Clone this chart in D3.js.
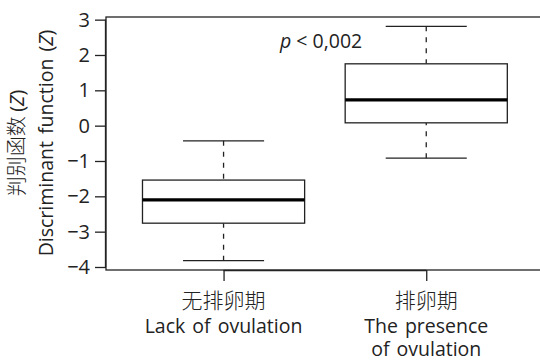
<!DOCTYPE html>
<html><head><meta charset="utf-8">
<script src="https://cdn.jsdelivr.net/npm/d3@7"></script>
<style>
html,body{margin:0;padding:0;background:#fff;}
text{font-family:"Open Sans",sans-serif;fill:#222;}
</style></head>
<body>
<svg id="c" width="540" height="361"></svg>
<script>
const categoriesZh = ["无排卵期", "排卵期"];
const categoriesEn = [["Lack of ovulation"], ["The presence", "of ovulation"]];
const lowerWhisker = [-3.82, -0.92];
const q1 = [-2.76, 0.08];
const median = [-2.10, 0.73];
const q3 = [-1.54, 1.75];
const upperWhisker = [-0.43, 2.81];
const yTicks = [-4, -3, -2, -1, 0, 1, 2, 3];
const pLabel = "p < 0,002";

const svg = d3.select("#c");
const x = d3.scaleLinear().domain([0.42, 2.58]).range([106, 543.8]);
const y = d3.scaleLinear().domain([-4.085, 3.075]).range([270, 17]);
const fmt = d => (d < 0 ? "\u2212" + Math.abs(d) : String(d));
const EN = "19.5px";

svg.append("rect").attr("x", x(0.42)).attr("y", y(3.075))
  .attr("width", x(2.58) - x(0.42)).attr("height", y(-4.085) - y(3.075))
  .attr("fill", "none").attr("stroke", "#222").attr("stroke-width", 1.3);

const ya = svg.append("g").attr("transform", `translate(${x(0.42)},0)`)
  .call(d3.axisLeft(y).tickValues(yTicks).tickFormat(fmt).tickSize(11).tickPadding(5));
ya.select(".domain").attr("d", `M-0.5,${y(-4)}V${y(3)}`).attr("stroke", "#222").attr("stroke-width", 1.3);
ya.selectAll(".tick line").attr("stroke", "#222").attr("stroke-width", 1.3);
ya.selectAll(".tick text").style("font-size", "20px").attr("fill", "#222");

const xa = svg.append("g").attr("transform", `translate(0,${y(-4.085)})`)
  .call(d3.axisBottom(x).tickValues([1, 2]).tickFormat("").tickSize(11));
xa.select(".domain").attr("d", `M${x(1)},0.5H${x(2)}`).attr("stroke", "#222").attr("stroke-width", 1.3);
xa.selectAll(".tick line").attr("stroke", "#222").attr("stroke-width", 1.3);

[0, 1].forEach(i => {
  const cx = x(i + 1);
  svg.append("text").attr("x", cx).attr("y", 308).attr("text-anchor", "middle")
    .style("font-family", "'Noto Sans CJK SC',sans-serif").style("font-size", "21px").style("font-weight", 300)
    .attr("fill", "#333").text(categoriesZh[i]);
  const t = svg.append("text").attr("x", cx).attr("y", 333).attr("text-anchor", "middle")
    .style("font-size", EN).style("word-spacing", "2px");
  categoriesEn[i].forEach((ln, j) => {
    t.append("tspan").attr("x", cx).attr("dy", j === 0 ? 0 : 23).text(ln);
  });
});

const yl = svg.append("g").attr("transform", `translate(0,143) rotate(-90)`);
yl.append("text").attr("x", 0).attr("y", 24).attr("text-anchor", "middle")
  .style("font-size", EN).attr("fill", "#333")
  .call(t => {
    t.append("tspan").style("font-family", "'Noto Sans CJK SC',sans-serif").style("font-weight", 300).style("font-size", "20px").text("判别函数 ");
    t.append("tspan").text("(");
    t.append("tspan").style("font-style", "italic").text("Z");
    t.append("tspan").text(")");
  });
yl.append("text").attr("x", 0).attr("y", 53).attr("text-anchor", "middle")
  .style("font-size", EN).style("word-spacing", "2px")
  .call(t => {
    t.append("tspan").text("Discriminant function (");
    t.append("tspan").style("font-style", "italic").text("Z");
    t.append("tspan").text(")");
  });

const bw = 0.8, cw = 0.4;
const g = svg.append("g");
[0, 1].forEach(i => {
  const c = i + 1;
  g.append("line").attr("x1", x(c)).attr("x2", x(c)).attr("y1", y(upperWhisker[i])).attr("y2", y(q3[i]))
    .attr("stroke", "#222").attr("stroke-width", 1.3).attr("stroke-dasharray", "5,6");
  g.append("line").attr("x1", x(c)).attr("x2", x(c)).attr("y1", y(lowerWhisker[i])).attr("y2", y(q1[i]))
    .attr("stroke", "#222").attr("stroke-width", 1.3).attr("stroke-dasharray", "5,6");
  [upperWhisker[i], lowerWhisker[i]].forEach(v => {
    g.append("line").attr("x1", x(c - cw / 2)).attr("x2", x(c + cw / 2)).attr("y1", y(v)).attr("y2", y(v))
      .attr("stroke", "#222").attr("stroke-width", 1.3);
  });
  g.append("rect").attr("x", x(c - bw / 2)).attr("y", y(q3[i]))
    .attr("width", x(c + bw / 2) - x(c - bw / 2)).attr("height", y(q1[i]) - y(q3[i]))
    .attr("fill", "#fff").attr("stroke", "#222").attr("stroke-width", 1.3);
  g.append("line").attr("x1", x(c - bw / 2)).attr("x2", x(c + bw / 2)).attr("y1", y(median[i])).attr("y2", y(median[i]))
    .attr("stroke", "#000").attr("stroke-width", 3.2);
});

svg.append("text").attr("x", 280).attr("y", 48).style("font-size", EN)
  .call(t => {
    t.append("tspan").style("font-style", "italic").text("p");
    t.append("tspan").text(pLabel.slice(1));
  });
</script>
</body></html>
